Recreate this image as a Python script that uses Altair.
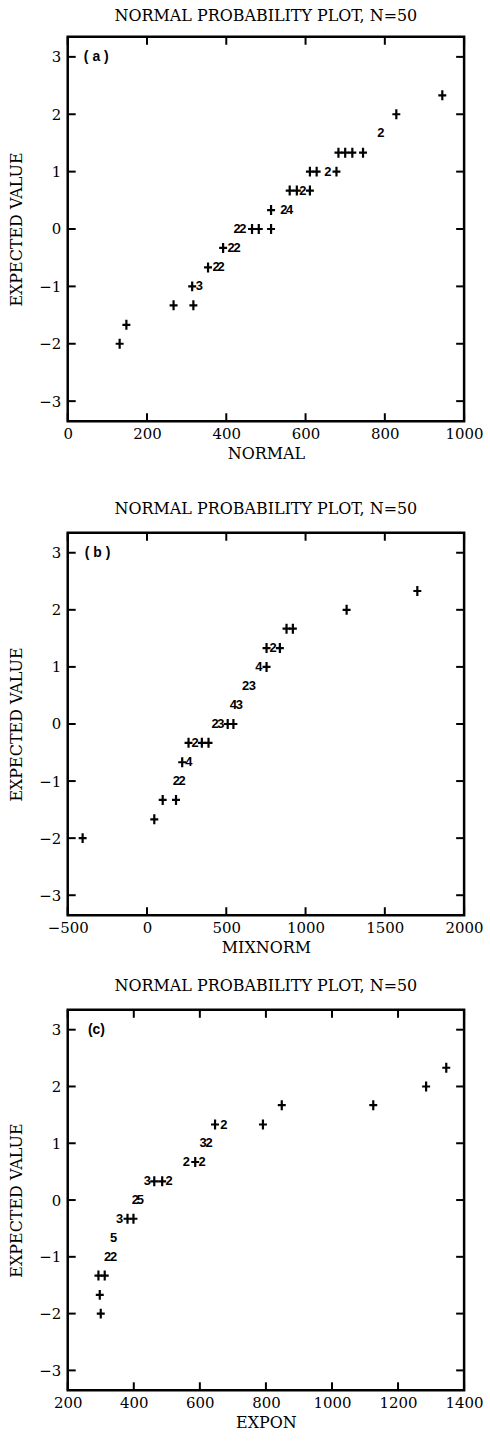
import altair as alt
import pandas as pd

# y levels of the printed rows (expected normal scores)
ROWS = [2.33, 2.0, 1.67, 1.33, 1.0, 0.67, 0.33, 0.0, -0.33, -0.67, -1.0, -1.33, -1.67, -2.0]

# Panel (a): NORMAL -- printed characters per row and their x positions
A_SYMS = ["+", "+", "2", "++++", "++2+", "++2+", "+24", "22+++", "+22", "+22", "+3", "++", "+", "+"]
A_XS = [[945], [829], [790], [683, 700, 718, 745], [611, 628, 656, 678], [560, 578, 593, 611],
        [513, 545, 560], [427, 442, 465, 482, 513], [392, 412, 427], [354, 374, 387],
        [314, 332], [267, 317], [148], [131]]

# Panel (b): MIXNORM
B_SYMS = ["+", "+", "++", "+2+", "4+", "23", "43", "23++", "+2++", "+4", "22", "++", "+", "+"]
B_XS = [[1705], [1259], [880, 920], [754, 796, 838], [706, 754], [622, 664], [545, 582],
        [430, 465, 509, 545], [262, 304, 346, 388], [222, 264], [185, 222], [99, 183], [46], [-406]]

# Panel (c): EXPON
C_SYMS = ["+", "+", "++", "+2+", "32", "2+2", "3++2", "25", "3++", "5", "22", "++", "+", "+"]
C_XS = [[1346], [1285], [848, 1125], [646, 673, 791], [610, 628], [559, 586, 607],
        [441, 462, 486, 507], [405, 420], [357, 381, 399], [339], [321, 339], [293, 312], [297], [300]]

X_TICKS_A = [0, 200, 400, 600, 800, 1000]
X_TICKS_B = [-500, 0, 500, 1000, 1500, 2000]
X_TICKS_C = [200, 400, 600, 800, 1000, 1200, 1400]
Y_TICKS = [-3, -2, -1, 0, 1, 2, 3]

TITLE = "NORMAL PROBABILITY PLOT, N=50"
W = 398
PLUS = "M-0.8,0L0.8,0M0,-1L0,1"
SERIF = "DejaVu Serif"


def flatten(syms, xs):
    recs = []
    for y, s, xl in zip(ROWS, syms, xs):
        for ch, x in zip(s, xl):
            recs.append({"x": x, "y": y, "sym": ch})
    return pd.DataFrame(recs)


def panel(syms, xs, xdom, xticks, letter, letter_x, H, title_offset, xtitle_text, xtitle_lh):
    df = flatten(syms, xs)
    xsc = alt.Scale(domain=xdom, nice=False, zero=False)
    ysc = alt.Scale(domain=[-3.35, 3.35], nice=False, zero=False)
    xax = alt.Axis(values=xticks, ticks=False, domain=False, grid=False, labelFlush=False,
                   labelFont=SERIF, labelFontSize=15, labelColor="black", labelPadding=5,
                   title=xtitle_text, titleFont=SERIF, titleFontSize=16, titleFontWeight="normal",
                   titleColor="black", titlePadding=4, titleLineHeight=xtitle_lh, format="d")
    yax = alt.Axis(values=Y_TICKS, ticks=False, domain=False, grid=False,
                   labelFont=SERIF, labelFontSize=15, labelColor="black", labelPadding=7,
                   title="EXPECTED VALUE", titleFont=SERIF, titleFontSize=16,
                   titleFontWeight="normal", titleColor="black", titlePadding=14, format="d")
    X = alt.X("x:Q", scale=xsc, axis=xax)
    Y = alt.Y("y:Q", scale=ysc, axis=yax)

    base = alt.Chart(df)
    plus = base.transform_filter(alt.datum.sym == "+").mark_point(
        shape=PLUS, size=100, filled=False, strokeWidth=2.2, color="black", opacity=1
    ).encode(x=X, y=Y)
    digits = base.transform_filter(alt.datum.sym != "+").mark_text(
        font="Liberation Sans", fontWeight="bold", fontSize=13, color="black", baseline="middle"
    ).encode(x=X, y=Y, text="sym:N")

    xt = alt.Chart(pd.DataFrame({"x": xticks}))
    yt = alt.Chart(pd.DataFrame({"y": Y_TICKS}))
    tb = xt.mark_rule(color="black", strokeWidth=2).encode(x=X, y=alt.value(H), y2=alt.value(H - 8))
    tt = xt.mark_rule(color="black", strokeWidth=2).encode(x=X, y=alt.value(0), y2=alt.value(8))
    tl = yt.mark_rule(color="black", strokeWidth=2).encode(y=Y, x=alt.value(0), x2=alt.value(8))
    tr = yt.mark_rule(color="black", strokeWidth=2).encode(y=Y, x=alt.value(W), x2=alt.value(W - 8))

    lab = alt.Chart(pd.DataFrame({"x": [letter_x], "y": [3], "t": [letter]})).mark_text(
        font="Liberation Sans", fontWeight="bold", fontSize=14, color="black", baseline="middle"
    ).encode(x=X, y=Y, text="t:N")

    return alt.layer(plus, digits, tb, tt, tl, tr, lab).properties(
        width=W, height=H,
        title=alt.TitleParams(TITLE, font=SERIF, fontSize=16, fontWeight="normal", color="black",
                              anchor="middle", frame="group", offset=title_offset),
    )


pa = panel(A_SYMS, A_XS, [0, 1000], X_TICKS_A, "( a )", 72, 386, 12, ["NORMAL", " "], 17)
pb = panel(B_SYMS, B_XS, [-500, 2000], X_TICKS_B, "( b )", -312, 384, 15, "MIXNORM", 13)
pc = panel(C_SYMS, C_XS, [200, 1400], X_TICKS_C, "(c)", 287, 382, 15, "EXPON", 13)

chart = alt.vconcat(pa, pb, pc, spacing=19).configure_view(
    stroke="black", strokeWidth=2.5
).properties(padding={"top": 3, "left": 7, "right": 5, "bottom": 5})

chart.save("out.html", embed_options={"renderer": "svg", "actions": False})
